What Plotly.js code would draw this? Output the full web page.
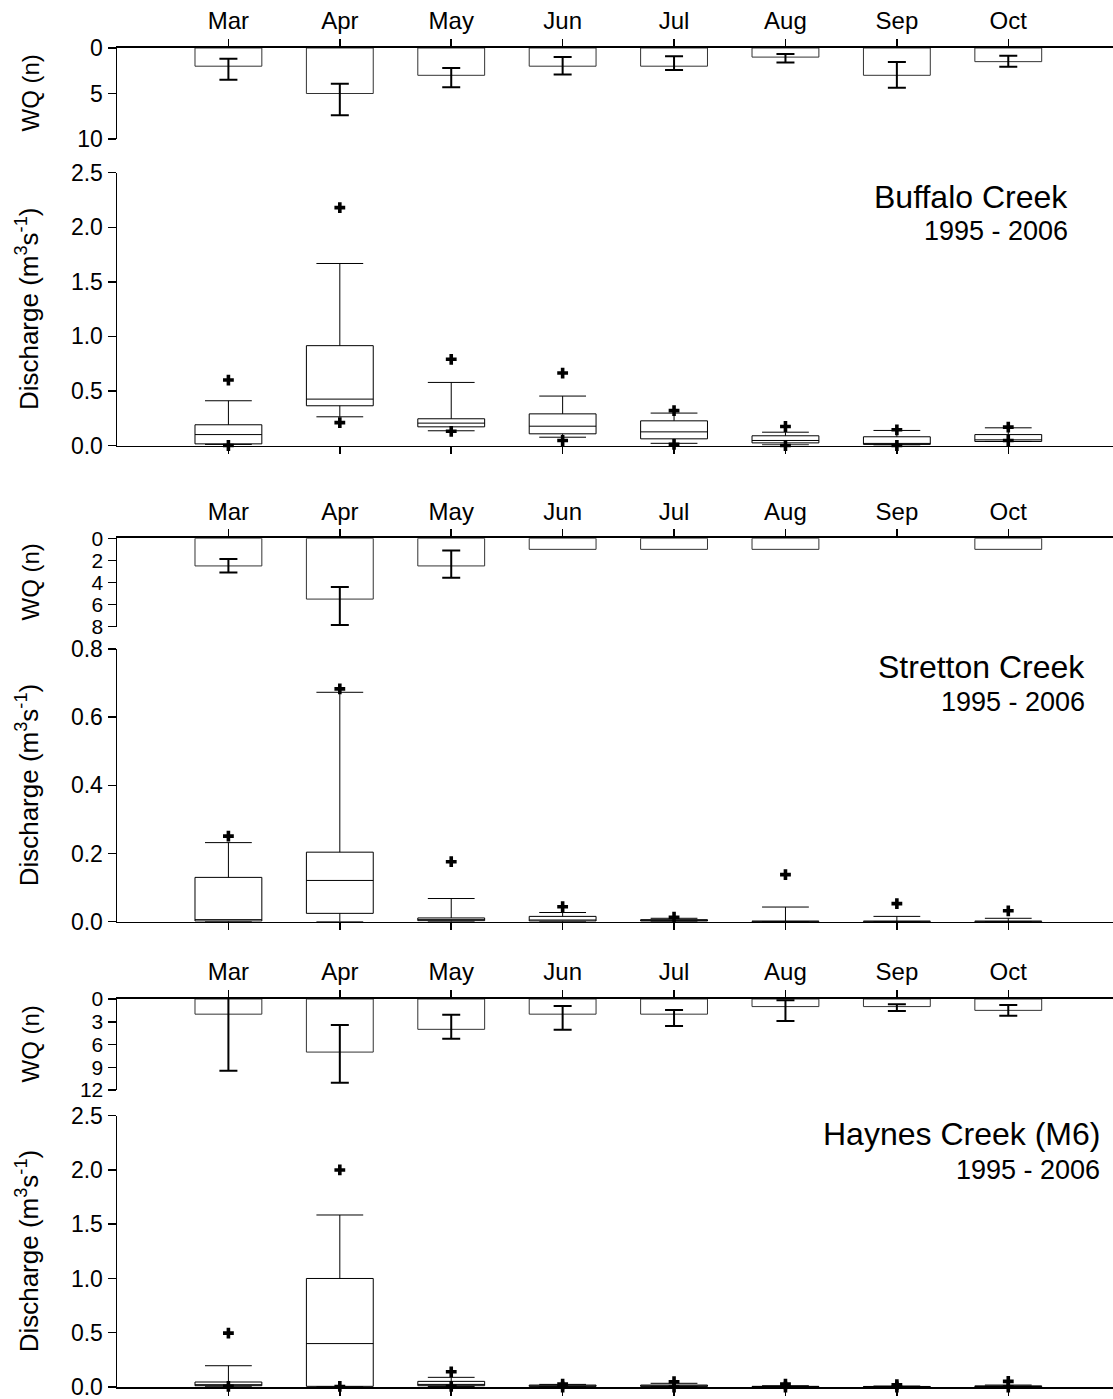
<!DOCTYPE html>
<html>
<head>
<meta charset="utf-8">
<script src="https://cdn.plot.ly/plotly-3.0.1.min.js"></script>
<style>html,body{margin:0;padding:0;background:#fff;}#chart{width:1113px;height:1399px;}</style>
</head>
<body>
<div id="chart"></div>
<script>
// ---------- DATA ----------
const months = ["Mar","Apr","May","Jun","Jul","Aug","Sep","Oct"];
const monthPos = [1,2,3,4,5,6,7,8];

// Water-quality sample counts (bars) with asymmetric error bars
const buffaloWQ        = [2, 5, 3, 2, 2, 1, 3, 1.5];
const buffaloWQErrLow  = [0.83, 1.08, 0.8, 1.01, 1.08, 0.34, 1.46, 0.66];
const buffaloWQErrHigh = [1.48, 2.4, 1.3, 0.9, 0.42, 0.58, 1.36, 0.55];

const strettonWQ        = [2.5, 5.5, 2.5, 1, 1, 1, null, 1];
const strettonWQErrLow  = [0.63, 1.1, 1.4, NaN, NaN, NaN, NaN, NaN];
const strettonWQErrHigh = [0.6, 2.35, 1.06, NaN, NaN, NaN, NaN, NaN];

const haynesWQ        = [2, 7, 4, 2, 2, 1, 1, 1.5];
const haynesWQErrLow  = [2.5, 3.57, 1.93, 1.08, 0.55, 0.82, 0.3, 0.7];
const haynesWQErrHigh = [7.45, 4.03, 1.23, 2.04, 1.56, 1.9, 0.58, 0.7];

// Discharge box plots (m3/s)
const buffaloQ1     = [0.015, 0.364, 0.171, 0.107, 0.061, 0.024, 0.010, 0.037];
const buffaloMedian = [0.10, 0.425, 0.205, 0.177, 0.125, 0.046, 0.015, 0.052];
const buffaloQ3     = [0.19, 0.915, 0.245, 0.29, 0.226, 0.089, 0.08, 0.10];
const buffaloLowW   = [0.01, 0.263, 0.135, 0.076, 0.02, 0.006, 0.003, 0.037];
const buffaloHighW  = [0.41, 1.668, 0.578, 0.453, 0.297, 0.122, 0.138, 0.162];
const buffaloP95    = [0.60, 2.18, 0.79, 0.664, 0.32, 0.174, 0.144, 0.168];
const buffaloP5     = [0.0, 0.21, 0.13, 0.046, 0.01, 0.0, 0.0, 0.046];

const strettonQ1     = [0.002, 0.0245, 0.003, 0.002, 0.002, 0.0, 0.0, 0.0];
const strettonMedian = [0.006, 0.121, 0.006, 0.005, 0.003, 0.0, 0.0, 0.0];
const strettonQ3     = [0.13, 0.204, 0.011, 0.0156, 0.006, 0.002, 0.002, 0.002];
const strettonLowW   = [0.0, 0.0, 0.0, 0.0, 0.0, 0.0, 0.0, 0.0];
const strettonHighW  = [0.232, 0.673, 0.068, 0.027, 0.01, 0.043, 0.0156, 0.01];
const strettonP95    = [0.251, 0.683, 0.176, 0.044, 0.013, 0.138, 0.053, 0.032];
const strettonP5     = [null, null, null, null, null, null, null, null];

const haynesQ1     = [0.012, 0.006, 0.012, 0.006, 0.006, 0.002, 0.002, 0.003];
const haynesMedian = [0.02, 0.40, 0.024, 0.01, 0.01, 0.004, 0.004, 0.006];
const haynesQ3     = [0.046, 1.0, 0.052, 0.018, 0.018, 0.006, 0.005, 0.01];
const haynesLowW   = [0.002, 0.002, 0.004, 0.002, 0.002, 0.0, 0.0, 0.0];
const haynesHighW  = [0.196, 1.585, 0.089, 0.024, 0.034, 0.012, 0.009, 0.018];
const haynesP95    = [0.496, 2.0, 0.14, 0.027, 0.049, 0.027, 0.021, 0.052];
const haynesP5     = [0.006, 0.005, 0.006, 0.0, 0.0, 0.0, 0.0, 0.0];

const creekNames = ["Buffalo Creek", "Stretton Creek", "Haynes Creek (M6)"];
const periodLabel = "1995 - 2006";

// ---------- LAYOUT HELPERS ----------
const W = 1113, H = 1399, ML = 117;
const FONT = "Liberation Sans, Arial, Helvetica, sans-serif";
const py = p => 1 - p / H;
const px = p => (p - ML) / (W - ML);
const XR = [0, 8.94];

const traces = [];
const layout = {
  width: W, height: H,
  margin: {l: ML, r: 0, t: 0, b: 0},
  paper_bgcolor: "#fff", plot_bgcolor: "rgba(0,0,0,0)",
  showlegend: false,
  font: {family: FONT, color: "#000", size: 23},
  annotations: []
};

function wqPanel(idx, vals, lo, hi, yMax, dtick, topPx, botPx, tickSize) {
  const xa = "x" + idx, ya = "y" + idx;
  traces.push({
    type: "bar", x: monthPos, y: vals, xaxis: xa, yaxis: ya, width: 0.6,
    marker: {color: "#fff", line: {color: "#333", width: 1}},
    error_y: {type: "data", symmetric: false, array: hi, arrayminus: lo,
              color: "#000", thickness: 2, width: 9},
    hoverinfo: "skip"
  });
  layout["xaxis" + idx] = {
    anchor: ya, side: "top", range: XR, domain: [0, 1],
    tickvals: monthPos, ticktext: months, ticks: "outside", ticklen: 7, tickwidth: 1.5,
    tickcolor: "#000", showline: true, linecolor: "#000", linewidth: 2,
    showgrid: false, zeroline: false, ticklabeloverflow: "allow",
    tickfont: {size: 24, family: FONT, color: "#000"}
  };
  const tv = [];
  for (let v = 0; v <= yMax + 1e-9; v += dtick) tv.push(v);
  layout["yaxis" + idx] = {
    anchor: xa, domain: [py(botPx), py(topPx)], range: [yMax, 0],
    tickvals: tv, ticks: "outside", ticklen: 8, tickwidth: 1.5, tickcolor: "#000",
    showline: true, linecolor: "#000", linewidth: 1.5, showgrid: false, zeroline: false,
    ticklabeloverflow: "allow", tickfont: {size: tickSize, family: FONT, color: "#000"}
  };
  layout.annotations.push({
    xref: "paper", yref: "paper", x: px(30), y: py((topPx + botPx) / 2),
    text: "WQ (n)", textangle: -90, showarrow: false, xanchor: "center", yanchor: "middle",
    font: {size: 24, family: FONT, color: "#000"}
  });
}

function qPanel(idx, q1, med, q3, lw, hw, p95, p5, yMax, topPx, botPx, name, titleRight, titleY, subY) {
  const xa = "x" + idx, ya = "y" + idx;
  traces.push({
    type: "box", x: monthPos, q1: q1, median: med, q3: q3, lowerfence: lw, upperfence: hw,
    xaxis: xa, yaxis: ya, width: 0.6, whiskerwidth: 0.7, boxpoints: false,
    fillcolor: "#fff", line: {color: "#000", width: 1}, hoverinfo: "skip"
  });
  traces.push({
    type: "scatter", mode: "markers", x: monthPos.concat(monthPos), y: p95.concat(p5),
    xaxis: xa, yaxis: ya, cliponaxis: false,
    marker: {symbol: "cross", size: 9, color: "#000", line: {width: 0}}, hoverinfo: "skip"
  });
  layout["xaxis" + idx] = {
    anchor: ya, side: "bottom", range: XR, domain: [0, 1],
    tickvals: monthPos, showticklabels: false, ticks: "outside", ticklen: 7, tickwidth: 1.5,
    tickcolor: "#000", showline: true, linecolor: "#000", linewidth: 1.5,
    showgrid: false, zeroline: false
  };
  layout["yaxis" + idx] = {
    anchor: xa, domain: [py(botPx), py(topPx)], range: [0, yMax],
    dtick: yMax > 1 ? 0.5 : 0.2, tick0: 0, tickformat: ".1f",
    ticks: "outside", ticklen: 8, tickwidth: 1.5, tickcolor: "#000",
    showline: true, linecolor: "#000", linewidth: 1.5, showgrid: false, zeroline: false,
    ticklabeloverflow: "allow", tickfont: {size: 23, family: FONT, color: "#000"}
  };
  layout.annotations.push({
    xref: "paper", yref: "paper", x: px(27), y: py((topPx + botPx) / 2),
    text: "Discharge (m<sup>3</sup>s<sup>-1</sup>)", textangle: -90, showarrow: false,
    xanchor: "center", yanchor: "middle", font: {size: 26, family: FONT, color: "#000"}
  });
  layout.annotations.push({
    xref: "paper", yref: "paper", x: px(titleRight), y: py(titleY),
    text: name, showarrow: false, xanchor: "right", yanchor: "middle",
    font: {size: 32, family: FONT, color: "#000"}
  });
  layout.annotations.push({
    xref: "paper", yref: "paper", x: px(titleRight), y: py(subY),
    text: periodLabel, showarrow: false, xanchor: "right", yanchor: "middle",
    font: {size: 27, family: FONT, color: "#000"}
  });
}

wqPanel(1, buffaloWQ, buffaloWQErrLow, buffaloWQErrHigh, 10, 5, 48, 139, 23);
qPanel(2, buffaloQ1, buffaloMedian, buffaloQ3, buffaloLowW, buffaloHighW, buffaloP95, buffaloP5,
       2.5, 172.7, 445.5, creekNames[0], 1070, 197, 231);
wqPanel(3, strettonWQ, strettonWQErrLow, strettonWQErrHigh, 8, 2, 538.3, 626.7, 21);
qPanel(4, strettonQ1, strettonMedian, strettonQ3, strettonLowW, strettonHighW, strettonP95, strettonP5,
       0.8, 649, 921.7, creekNames[1], 1087, 667, 702);
wqPanel(5, haynesWQ, haynesWQErrLow, haynesWQErrHigh, 12, 3, 999, 1090, 21);
qPanel(6, haynesQ1, haynesMedian, haynesQ3, haynesLowW, haynesHighW, haynesP95, haynesP5,
       2.5, 1115.7, 1387, creekNames[2], 1102, 1134, 1170);

Plotly.newPlot("chart", traces, layout, {staticPlot: true, displayModeBar: false});
</script>
</body>
</html>
